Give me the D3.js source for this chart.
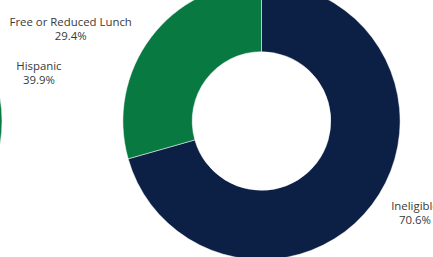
<!DOCTYPE html>
<html>
<head>
<meta charset="utf-8">
<script src="https://cdn.jsdelivr.net/npm/d3@7"></script>
<style>
  body { margin: 0; background: #fff; }
  svg { display: block; }
  text { font-family: "Open Sans", sans-serif; font-size: 11.4px; fill: #3a3a3a; }
</style>
</head>
<body>
<svg id="chart"></svg>
<script>
const width = 433;
const height = 257;

// main donut (clockwise from 12 o'clock)
const lunchCategories = ['Ineligible', 'Free or Reduced Lunch'];
const lunchValues = [70.6, 29.4];
const lunchLabels = ['70.6%', '29.4%'];
const lunchColors = ['#0c1f45', '#087a41'];

// neighbouring donut, mostly off to the left
const ethnicCategories = ['Hispanic', 'Non-Hispanic'];
const ethnicValues = [39.9, 60.1];
const ethnicLabels = ['39.9%', '60.1%'];
const ethnicColors = ['#087a41', '#0c1f45'];

const outerR = 138.6;
const innerR = 69.3;
const cy = 121;

const svg = d3.select('#chart')
    .attr('width', width)
    .attr('height', height);

const pie = d3.pie().sort(null).value(d => d.value);
const arc = d3.arc().innerRadius(innerR).outerRadius(outerR);
const labelArc = d3.arc().innerRadius(outerR * 1.1).outerRadius(outerR * 1.1);

const drawDonut = (cx, categories, values, labels, colors, showLabels) => {
    const data = categories.map((c, i) => ({ name: c, value: values[i], label: labels[i], i }));
    const arcs = pie(data);
    const g = svg.append('g').attr('transform', `translate(${cx}, ${cy})`);

    g.selectAll('path')
        .data(arcs)
        .enter().append('path')
        .attr('d', arc)
        .attr('fill', d => colors[d.data.i])
        .attr('stroke', '#fff')
        .attr('stroke-width', 0.5);

    const lab = g.selectAll('g.lab')
        .data(arcs.filter(showLabels))
        .enter().append('g')
        .attr('class', 'lab')
        .attr('transform', d => `translate(${labelArc.centroid(d)})`);

    lab.each(function (d) {
        const sel = d3.select(this);
        const mid = (d.startAngle + d.endAngle) / 2;
        const right = mid < Math.PI;
        const t1 = sel.append('text').attr('y', -3).text(d.data.name);
        const w = t1.node().getComputedTextLength();
        const center = right ? 8 + w / 2 : -8 - w / 2;
        t1.attr('x', center).attr('text-anchor', 'middle');
        sel.append('text')
            .attr('x', center)
            .attr('y', 11)
            .attr('text-anchor', 'middle')
            .text(d.data.label);
    });
};

drawDonut(-136.6, ethnicCategories, ethnicValues, ethnicLabels, ethnicColors, d => d.data.i === 0);
drawDonut(261.5, lunchCategories, lunchValues, lunchLabels, lunchColors, () => true);
</script>
</body>
</html>
